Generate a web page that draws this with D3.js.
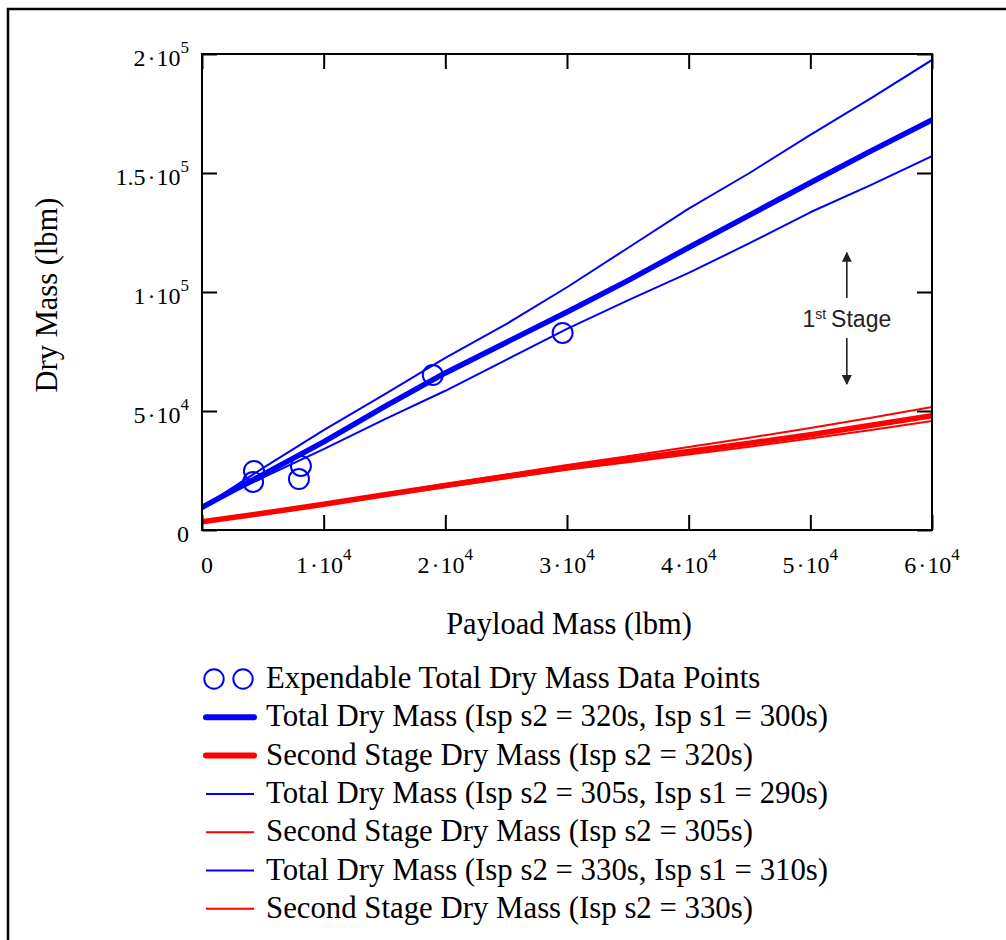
<!DOCTYPE html>
<html><head><meta charset="utf-8">
<script src="https://cdn.jsdelivr.net/npm/d3@7"></script>
<style>body{margin:0;background:#fff;overflow:hidden} svg{display:block}</style>
</head><body><svg id="chart" width="1006" height="940"></svg>
<script>
// ---------- data ----------
const payload = [0, 5000, 10000, 15000, 20000, 25000, 30000, 35000, 40000, 45000, 50000, 55000, 60000];
const totalDry_320_300 = [9500, 23300, 37000, 51800, 66000, 78800, 91600, 104800, 118700, 132300, 145900, 159300, 172300];
const secondDry_320 = [3500, 7000, 10800, 14800, 18700, 22500, 26300, 29600, 33000, 36500, 40000, 44000, 48000];
const totalDry_305_290 = [9500, 26000, 42000, 57000, 72300, 86500, 102000, 118500, 135000, 150000, 166000, 181500, 197500];
const secondDry_305 = [3500, 7200, 11100, 15200, 19300, 23300, 27300, 31000, 34900, 38800, 42900, 47200, 51700];
const totalDry_330_310 = [9500, 22000, 34000, 46500, 58500, 71500, 84500, 96500, 108000, 120500, 133500, 145000, 157100];
const secondDry_330 = [3500, 6800, 10500, 14300, 18100, 21700, 25300, 28500, 31700, 35000, 38400, 42000, 45800];

const pointsPayload = [4270, 4200, 8130, 7970, 18970, 29640];
const pointsDryMass = [24800, 20200, 26900, 21400, 65100, 82800];

const xTicks = [0, 10000, 20000, 30000, 40000, 50000, 60000];
const xTickMant = ["0", "1", "2", "3", "4", "5", "6"];
const xTickExp = ["", "4", "4", "4", "4", "4", "4"];
const yTicks = [0, 50000, 100000, 150000, 200000];
const yTickMant = ["0", "5", "1", "1.5", "2"];
const yTickExp = ["", "4", "5", "5", "5"];

const legendLabels = [
  "Expendable Total Dry Mass Data Points",
  "Total Dry Mass (Isp s2 = 320s, Isp s1 = 300s)",
  "Second Stage Dry Mass (Isp s2 = 320s)",
  "Total Dry Mass (Isp s2 = 305s, Isp s1 = 290s)",
  "Second Stage Dry Mass (Isp s2 = 305s)",
  "Total Dry Mass (Isp s2 = 330s, Isp s1 = 310s)",
  "Second Stage Dry Mass (Isp s2 = 330s)"
];

// annotation (data units)
const annX = 53000;
const annUp = [97500, 116500];
const annDown = [80700, 61300];
const annTextY = 85300;

// ---------- drawing ----------
const svg = d3.select("#chart");
const serif = "'Liberation Serif','Times New Roman',serif";
const sans = "'Liberation Sans',Arial,sans-serif";
const BLUE = "#0000ff", RED = "#ff0000";

// outer frame (only top and left visible)
svg.append("rect").attr("x", 8).attr("y", 9).attr("width", 1100).attr("height", 1100)
  .attr("fill", "none").attr("stroke", "#000").attr("stroke-width", 2.5);

const x = d3.scaleLinear().domain([0, 60000]).range([202, 932]);
const y = d3.scaleLinear().domain([0, 200000]).range([530, 54]);

const defs = svg.append("defs");
defs.append("clipPath").attr("id", "plotclip").append("rect")
  .attr("x", 202).attr("y", 54).attr("width", 730).attr("height", 476);

const series = [
  {v: totalDry_305_290, c: BLUE, w: 2},
  {v: totalDry_330_310, c: BLUE, w: 2},
  {v: secondDry_305, c: RED, w: 2},
  {v: secondDry_330, c: RED, w: 2},
  {v: totalDry_320_300, c: BLUE, w: 5.5},
  {v: secondDry_320, c: RED, w: 5.5}
];
const line = d3.line().x((d, i) => x(payload[i])).y(d => y(d));
const plot = svg.append("g").attr("clip-path", "url(#plotclip)");
plot.selectAll("path.s").data(series).join("path").attr("class", "s")
  .attr("d", d => line(d.v)).attr("fill", "none")
  .attr("stroke", d => d.c).attr("stroke-width", d => d.w)
  .attr("stroke-linejoin", "round").attr("stroke-linecap", "round");

svg.append("g").selectAll("circle").data(pointsPayload).join("circle")
  .attr("cx", d => x(d)).attr("cy", (d, i) => y(pointsDryMass[i])).attr("r", 10)
  .attr("fill", "none").attr("stroke", BLUE).attr("stroke-width", 2);

// axes: ticks inward on all four sides
const tk = 15;
function styleAxis(g) {
  g.select(".domain").remove();
  g.selectAll(".tick line").attr("stroke", "#000").attr("stroke-width", 2);
}
svg.append("g").attr("transform", "translate(0,530)")
  .call(d3.axisBottom(x).tickValues(xTicks).tickSize(-tk).tickFormat("")).call(styleAxis);
svg.append("g").attr("transform", "translate(0,54)")
  .call(d3.axisTop(x).tickValues(xTicks).tickSize(-tk).tickFormat("")).call(styleAxis);
svg.append("g").attr("transform", "translate(202,0)")
  .call(d3.axisLeft(y).tickValues(yTicks).tickSize(-tk).tickFormat("")).call(styleAxis);
svg.append("g").attr("transform", "translate(932,0)")
  .call(d3.axisRight(y).tickValues(yTicks).tickSize(-tk).tickFormat("")).call(styleAxis);

svg.append("rect").attr("x", 202).attr("y", 54).attr("width", 730).attr("height", 476)
  .attr("fill", "none").attr("stroke", "#000").attr("stroke-width", 2);

function tickLabel(t, mant, exp) {
  t.append("tspan").text(mant);
  if (exp) {
    t.append("tspan").attr("dx", 2).text("·");
    t.append("tspan").attr("dx", 1).text("10");
    t.append("tspan").attr("dy", -13).attr("font-size", 17).text(exp);
  }
}
const tfs = 24;
svg.append("g").selectAll("text").data(xTicks).join("text")
  .attr("x", (d, i) => x(d) + (i === 0 ? 5 : 0)).attr("y", 573)
  .attr("text-anchor", "middle").attr("font-family", serif).attr("font-size", tfs)
  .each(function(d, i) { tickLabel(d3.select(this), xTickMant[i], xTickExp[i]); });
svg.append("g").selectAll("text").data(yTicks).join("text")
  .attr("x", 189).attr("y", d => y(d) + 12)
  .attr("text-anchor", "end").attr("font-family", serif).attr("font-size", tfs)
  .each(function(d, i) { tickLabel(d3.select(this), yTickMant[i], yTickExp[i]); });

// axis titles
svg.append("text").attr("x", 569).attr("y", 634).attr("text-anchor", "middle")
  .attr("font-family", serif).attr("font-size", 30.5).text("Payload Mass (lbm)");
svg.append("text").attr("transform", "translate(57,295) rotate(-90)").attr("text-anchor", "middle")
  .attr("font-family", serif).attr("font-size", 30.5).text("Dry Mass (lbm)");

// annotation
defs.append("marker").attr("id", "arr").attr("viewBox", "0 0 10 10").attr("refX", 9).attr("refY", 5)
  .attr("markerWidth", 10).attr("markerHeight", 10).attr("markerUnits", "userSpaceOnUse")
  .attr("orient", "auto").append("path").attr("d", "M0,0 L10,5 L0,10 Z").attr("fill", "#222");
const ann = svg.append("g");
[annUp, annDown].forEach(a => {
  ann.append("line").attr("x1", x(annX)).attr("x2", x(annX)).attr("y1", y(a[0])).attr("y2", y(a[1]))
    .attr("stroke", "#222").attr("stroke-width", 1.6).attr("marker-end", "url(#arr)");
});
const at = ann.append("text").attr("x", x(annX)).attr("y", y(annTextY)).attr("text-anchor", "middle")
  .attr("font-family", sans).attr("font-size", 23).attr("fill", "#222");
at.append("tspan").text("1");
at.append("tspan").attr("dy", -8).attr("font-size", 14).text("st");
at.append("tspan").attr("dy", 8).attr("dx", 5).text("Stage");

// legend
const legY0 = 679, legDY = 38.3;
const leg = svg.append("g");
const legStyles = [null, {c: BLUE, w: 6}, {c: RED, w: 6}, {c: BLUE, w: 2}, {c: RED, w: 2}, {c: BLUE, w: 2}, {c: RED, w: 2}];
legendLabels.forEach((lab, i) => {
  const cy = legY0 + i * legDY;
  if (i === 0) {
    [214, 243].forEach(cx => leg.append("circle").attr("cx", cx).attr("cy", cy).attr("r", 9.7)
      .attr("fill", "none").attr("stroke", BLUE).attr("stroke-width", 2));
  } else {
    const s = legStyles[i];
    leg.append("line").attr("x1", 206).attr("x2", 254).attr("y1", cy).attr("y2", cy)
      .attr("stroke", s.c).attr("stroke-width", s.w).attr("stroke-linecap", s.w > 3 ? "round" : "butt");
  }
  leg.append("text").attr("x", 266).attr("y", cy + 9).attr("font-family", serif).attr("font-size", 30.8).text(lab);
});
</script></body></html>
